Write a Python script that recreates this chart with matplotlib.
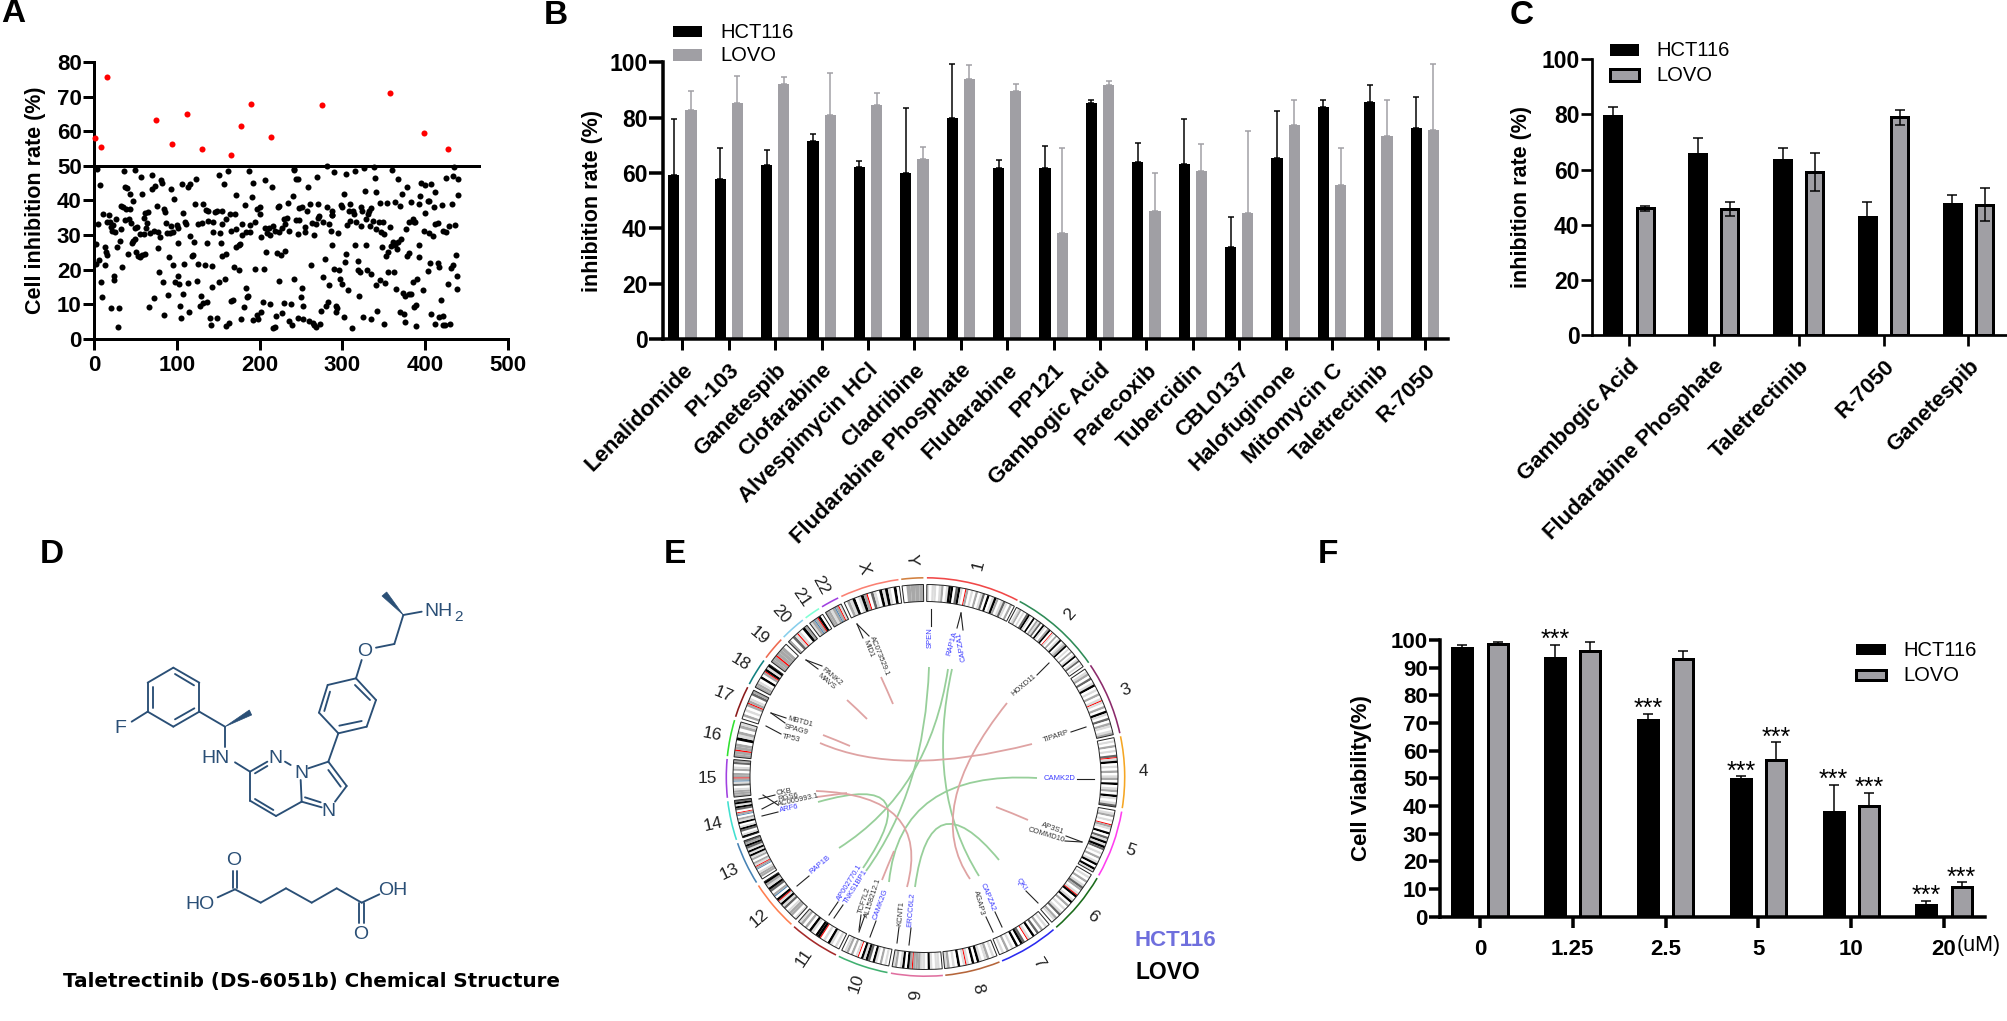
import numpy as np
import matplotlib
matplotlib.use("Agg")
import matplotlib.pyplot as plt
from matplotlib.patches import Wedge, Rectangle, Polygon, PathPatch
from matplotlib.path import Path

plt.rcParams['font.family'] = ['Liberation Sans', 'DejaVu Sans']
W, H = 2008, 1021
BLACK, GREY = '#000000', '#a09fa4'
NAVY = '#2a4f76'

# ---------- Panel A data ----------
scatter_x = [2,2,4,5,6,7,8,10,11,13,13,15,16,16,18,19,20,21,22,23,24,24,25,27,28,30,29,31,33,33,34,35,36,37,38,39,40,41,42,43,44,45,46,47,47,49,50,50,51,52,53,55,56,57,58,58,60,60,61,62,63,64,65,67,68,70,70,72,72,74,76,77,77,79,80,81,82,83,84,85,86,87,88,89,90,92,93,93,95,96,97,
 123,106,113,116,151,162,187,157,192,172,191,122,132,182,135,138,146,149,155,164,170,200,197,200,108,110,111,125,131,138,144,154,160,179,188,194,100,101,144,152,166,171,179,184,189,116,101,121,136,153,172,175,176,155,160,118,120,126,134,142,169,175,195,109,102,98,103,114,124,151,158,143,183,107,129,185,186,136,132,128,166,168,104,181,115,105,140,148,177,192,197,198,141,159,163,
 207,215,242,241,244,246,259,269,281,290,240,234,223,222,261,270,281,287,248,251,257,271,272,277,287,288,244,247,255,263,268,284,229,233,231,216,207,211,209,213,218,224,227,236,246,255,266,286,202,208,221,226,231,262,279,205,223,242,251,250,276,284,204,212,230,238,253,283,280,274,202,220,227,246,252,235,260,264,273,239,266,268,216,218,
 302,304,315,326,338,339,327,340,345,298,299,309,308,313,314,322,324,335,331,332,309,316,329,337,344,349,306,323,333,341,347,350,295,315,328,348,288,304,303,319,290,296,319,321,330,334,297,300,341,345,352,307,320,292,293,292,342,302,325,335,312,350,
 360,367,378,372,383,354,364,370,358,377,381,385,387,388,371,361,367,359,364,366,380,378,353,355,355,362,365,373,375,380,383,369,374,375,
 395,400,407,412,394,403,405,392,432,411,420,400,399,405,410,412,416,421,425,429,436,393,393,403,406,416,417,431,433,437,438,427,438,397,385,390,419,389,387,407,417,422,389,412,421,424,430,435,434,425,440,440]
scatter_y = [27.5,21.5,49,33.2,22.8,44.5,16.3,12.2,36,21.2,26.6,25,24.2,33.7,35.7,33.9,8.8,32.2,31.2,33,17,18,31,34.6,26.5,9,3.4,28.2,38.5,31.8,20.7,38,48.6,44,34.2,37.5,43.7,24.5,34.5,41.9,37.6,33.4,27.8,28.2,39.9,28.8,48.9,32,25,32.4,24,23.7,30.3,46.9,24.2,42,30.4,35,24.5,36.3,32,33.5,36.7,9.2,30.5,43.3,47.4,11.8,31.3,44.2,38.3,26.3,30.8,19.2,29.5,45.8,45.1,16.3,7,37.5,36.8,33.6,30.6,12.6,23.5,30.6,32.5,43.3,31,21.2,40.3,
 46.2,44.8,43.9,44.9,47.4,48.6,48.6,44.9,45,41.7,40.9,38.9,38.9,38.6,37.2,36.9,36.7,37,37,36.1,36,38,37.4,36,36.4,33.9,33.3,33.2,33.6,34,33.9,33.3,34.6,33.1,33,33.7,33,31.9,31,30.5,31.1,31.6,30.1,31,31,29.6,27.7,27.9,27.6,27.6,26.4,27.1,27.3,24,24.4,23.8,24.3,21.6,21.2,21.1,20.7,20,20.2,21.6,18.2,16.4,15.8,16.2,16.6,16.3,17.2,15,14.7,12.8,12.3,12,12.4,10.6,10.4,9.4,10.8,11.2,9.5,9.2,7.8,5.9,6.1,6,5.7,5.4,7,5.6,3.9,3.8,4.6,
 46,43.8,48.7,49.2,46.3,46.2,43.8,46.9,49.9,48.2,41.2,39.2,38.5,38.2,39,39,38.2,37,37.7,38.2,36.9,34.8,35.6,33.7,35.8,35.7,34.4,34.2,32.4,33.4,33.3,33.1,34.6,34.8,33.3,32.6,31.9,32,30.5,30,31.3,31,32,31.2,30.2,30.8,29.9,31.3,29.3,25.2,24.8,24.2,25.5,21.4,23.1,20.3,16.8,17.3,14.7,12.1,17.8,15.4,10.6,10,10.2,10,9.5,10.7,9.5,8.1,7.8,6.7,7.5,6,5.7,5.2,5.2,4.6,4.3,4,4,3.3,3.2,3.5,
 41.8,47.7,48.6,49.4,49.6,46.6,42.7,42.4,39.4,38.6,38.2,39,37,37,36.2,38,37,37.8,36.2,37,34,33.8,34.7,34,33.9,33.9,33,32.6,32.6,31.7,31,30.3,30.6,27,27.1,26.6,27,24.6,22.2,22.4,20.2,20,20,19.2,20,18.6,17.2,15.7,15.5,16.9,16,14,12.3,9.5,8.8,7.7,8.1,6.2,6.3,5.6,3,4.2,
 48.9,46.1,43.8,42,39.6,39.2,39.5,38.3,32.2,31.8,33.7,34.6,33.9,33.7,28.8,28.1,27.9,26.7,27,26,24.7,24,23.9,25,19.3,19.3,14.4,13.3,12.4,12.8,12.8,7.7,7.1,4.8,
 45.1,44.5,44.9,42.4,41.4,39.7,39.9,39,39,38,38.6,36.5,31.3,30.7,29.7,33.3,33.4,31.2,30.9,32.7,33,27,23.7,19.7,21.8,21.8,20.7,20.4,21.3,24.2,18.2,15.9,14.5,14,16.5,17.3,11.2,9.7,9.3,7.2,6.3,6.5,3.8,4.2,4,4,4.3,49.6,47,46.4,46.2,41.7]
hit_x = [1,9,16,75,94,112,131,166,178,190,214,275,357,398,427.5]
hit_y = [58,55.6,75.7,63.2,56.2,65,54.8,53.2,61.5,68,58.3,67.7,71,59.5,55]
threshold = 50

# ---------- Panel B data ----------
b_drugs = ['Lenalidomide','PI-103','Ganetespib','Clofarabine','Alvespimycin HCl','Cladribine',
           'Fludarabine Phosphate','Fludarabine','PP121','Gambogic Acid','Parecoxib','Tubercidin',
           'CBL0137','Halofuginone','Mitomycin C','Taletrectinib','R-7050']
b_hct = [59.2,57.8,62.9,71.6,62.2,60.1,79.8,61.9,61.9,85.2,64.1,63.4,33.1,65.5,83.7,85.6,76.4]
b_hct_top = [79.4,68.9,68.4,74,64.2,83.5,99.5,64.7,69.8,86.3,71,79.6,44,82.4,86.2,91.7,87.5]
b_lovo = [82.7,85.3,92.2,81.1,84.6,65.2,93.9,89.6,38.3,91.7,46.1,60.8,45.6,77.2,55.5,73.3,75.6]
b_lovo_top = [89.5,95,94.7,96.3,88.8,69.5,99.2,92,69.2,93.4,59.9,70.6,75.2,86.2,69,86.5,99.4]

# ---------- Panel C data ----------
c_drugs = ['Gambogic Acid','Fludarabine Phosphate','Taletrectinib','R-7050','Ganetespib']
c_hct = [79.5,65.7,63.3,42.9,47.6]
c_hct_err = [3,5.6,4.5,5.5,3.1]
c_lovo = [46,45.7,59.1,78.9,47.3]
c_lovo_err = [0.9,2.6,6.9,2.8,6.1]

# ---------- Panel F data ----------
f_doses = ['0','1.25','2.5','5','10','20']
f_hct = [97.2,93.5,71.2,49.9,38,4.1]
f_hct_err = [1.1,4.7,2.2,0.8,9.7,1.7]
f_lovo = [98.7,96.1,93.3,56.7,40,10.7]
f_lovo_err = [0.7,3.1,2.6,6.3,4.7,1.7]
f_hct_sig = [False,True,True,True,True,True]
f_lovo_sig = [False,False,False,True,True,True]

# ---------- Panel E data ----------
chrom_names = ['1','2','3','4','5','6','7','8','9','10','11','12','13','14','15','16','17','18','19','20','21','22','X','Y']
chrom_start = [0.4,28.2,55.9,78.2,100,120.5,140,158.2,175,191,206.7,222.3,238,251.6,264,276,287.6,297.8,306.8,314.6,323,328.7,335,353]
chrom_end   = [27.5,55,77.3,99,119.6,139,157.4,174.3,190,205.8,221.3,237,250.6,263,275.2,286.6,296.8,305.8,313.6,322,327.7,334,352.2,359.4]
chrom_color = ['#f04848','#2e8b57','#8b2a6b','#f5a623','#ff3ef0','#1a6b1a','#2a2af0','#b5653a','#e070a0','#40b070',
               '#a52a2a','#ff7f50','#4682b4','#40e0d0','#a040e0','#30e030','#8b1a1a','#118080','#ee6a50','#87ceeb',
               '#7fffd4','#a040e0','#fa8072','#d2803f']
# shade per band: 0 white .. 4 black, r red, b blue
chrom_bands = ['1011012014403410r201020130401420131020',
 '0120103410402130410240r10201401240102014013010',
 '01203014010201r10204103021012',
 '01020103r14010201204012041013',
 '012010r210403141430102014041',
 '0102013201r401402010130210',
 '0102030401r034040102010',
 '010210140401r10401021',
 '011014011222r24041021',
 '0102014034140r1020210',
 '01014010r4401402021',
 '1022103141r40b2034124',
 '02210b2r1202141413423',
 '41034104120b2r034143',
 '2221031b2r22021032',
 '22r220412021',
 '020102r21032',
 '2210402r414',
 '22r2220',
 '2031r1042',
 '12b2r40',
 '2212b2r1',
 '02140142r03104141040',
 '02222']
names_gene = ['SPEN','RAP1A','CAPZA1','HOXD11','TIPARP','CAMK2D','AP3S1','COMMD10','QKI','CAPZA2','AGAP3','ERCC6L2','KCNT1',
              'CAMK2G','AL158212.1','TCF7L2','TNKS1BP1','AP002770.1','RAP1B','ARF6','AC005993.1','RGS6','CKB','TP53','SPAG9','MBTD1','MAVS','PANK2','MID1','AC073529.1']
gene_blue = ['SPEN','RAP1A','CAPZA1','CAMK2D','QKI','CAPZA2','ERCC6L2','CAMK2G','TNKS1BP1','AP002770.1','RAP1B','ARF6']
gene_px = [(930,638),(952,643),(962,647),(1024,685),(1056,736),(1060,778),(1053,829),(1046,835),(1021,884),(988,897),(979,903),(911,910),(901,913),
           (881,904),(873,898),(865,900),(856,887),(850,883),(820,865),(789,809),(798,800),(788,797),(784,792),(791,738),(796,730),(800,722),(826,682),(832,677),(868,649),(879,656)]
gene_rot = [90,75,100,40,18,0,-20,-17,-55,-68,-75,85,85,70,72,72,58,58,40,12,12,12,10,-12,-15,-15,-40,-40,-68,-68]
gene_ticks = [((931,609),(931,626)),((961,613),(957,628)),((961,613),(963,630)),((1049,663),(1037,675)),((1086,727),(1071,732)),
              ((1094,779),(1077,779)),((1082,842),(1066,836)),((1082,842),(1065,841)),((1038,903),(1026,891)),((1002,927),(995,912)),
              ((993,932),(986,917)),((909,945),(911,928)),((897,943),(899,927)),((870,937),(876,921)),((859,932),(865,915)),((859,930),(861,915)),
              ((834,918),(843,905)),((829,915),(838,902)),((797,886),(809,876)),((762,816),(778,812)),((762,809),(777,801)),((763,795),(778,805)),((759,799),(775,795)),
              ((766,726),(781,734)),((771,713),(785,723)),((771,713),(786,718)),((806,660),(818,669)),((806,660),(822,666)),((857,624),(863,638)),((857,624),(869,636))]
link_green = [((929,667),(925,790),(866,871)),((948,669),(930,790),(839,848)),((952,669),(925,790),(979,876)),
              ((818,802),(930,770),(863,868)),((1037,778),(900,770),(889,882)),((915,887),(930,776),(999,860))]
link_red = [((1007,703),(922,809),(970,879)),((820,743),(900,778),(1032,744)),((816,791),(932,795),(907,887)),
            ((881,677),(887,690),(893,704)),((847,700),(857,709),(867,719)),((823,735),(836,740),(850,746)),
            ((817,797),(832,795),(847,793)),((894,851),(888,865),(882,880)),((1028,820),(1012,813),(996,807))]

# ---------- Helpers ----------
fig = plt.figure(figsize=(W/100, H/100), dpi=100)
def px(v): return v*0.72
def make_ax(l, t, r, b):
    ax = fig.add_axes([l/W, 1-b/H, (r-l)/W, (b-t)/H])
    ax.patch.set_alpha(0)
    for s in ['top','right']: ax.spines[s].set_visible(False)
    return ax
def style(ax, lw, xlen, ylen, size, xw=None):
    for s in ['left','bottom']: ax.spines[s].set_linewidth(px(lw))
    ax.tick_params(axis='y', width=px(lw), length=px(ylen), labelsize=size, pad=1)
    ax.tick_params(axis='x', width=px(xw or lw), length=px(xlen), labelsize=size)
    for t in ax.get_yticklabels()+ax.get_xticklabels(): t.set_fontweight('bold')
def ylab(ax, text, size, xpx, left, width):
    ax.set_ylabel(text, fontsize=size, fontweight='bold', va='center')
    ax.yaxis.set_label_coords((xpx-left)/width, 0.5)

ov = fig.add_axes([0,0,1,1]); ov.set_xlim(0,W); ov.set_ylim(H,0); ov.axis('off'); ov.set_zorder(5); ov.patch.set_alpha(0)

for letter, x, y in [('A',1,14),('B',544,15),('C',1510,15),('D',40,554),('E',664,554),('F',1318,554)]:
    ov.text(x, y, letter, fontsize=24, fontweight='bold', ha='left', va='center')

def legend(x0, x1, y1, y2, tx, ty1, ty2, edge):
    ov.add_patch(Rectangle((x0,y1[0]),x1-x0,y1[1]-y1[0],fc=BLACK,ec='none'))
    ov.add_patch(Rectangle((x0,y2[0]),x1-x0,y2[1]-y2[0],fc=GREY,ec=BLACK if edge else 'none',lw=px(3) if edge else 0))
    ov.text(tx,ty1,'HCT116',fontsize=14.5,va='center')
    ov.text(tx,ty2,'LOVO',fontsize=14.5,va='center')

# ---------- A ----------
a = make_ax(94,62.2,508,338.7)
a.set_xlim(0,500); a.set_ylim(0,80)
a.scatter(scatter_x, scatter_y, s=19, c='black', lw=0, zorder=3, clip_on=False)
a.scatter(hit_x, hit_y, s=19, c='#ff0000', lw=0, zorder=3, clip_on=False)
a.plot([0,465],[threshold,threshold],color='black',lw=px(3),zorder=2, clip_on=False)
a.set_xticks(range(0,501,100)); a.set_yticks(range(0,81,10))
style(a,3,11,11,16)
ylab(a,'Cell inhibition rate (%)',15.5,36,94,414)

# ---------- B ----------
b = make_ax(663,62.3,1448,339)
n = len(b_drugs); xs = np.arange(n)
b.set_xlim(-0.418,16.5); b.set_ylim(0,100)
off, wd = 0.184, 0.24
b.bar(xs-off,b_hct,wd,color=BLACK); b.bar(xs+off,b_lovo,wd,color=GREY)
up1 = np.array(b_hct_top)-np.array(b_hct); up2 = np.array(b_lovo_top)-np.array(b_lovo)
b.errorbar(xs-off,b_hct,yerr=[np.zeros(n),up1],fmt='none',ecolor=BLACK,elinewidth=px(1.5),capsize=2,capthick=px(1.5))
b.errorbar(xs+off,b_lovo,yerr=[np.zeros(n),up2],fmt='none',ecolor=GREY,elinewidth=px(1.5),capsize=2,capthick=px(1.5))
b.set_xticks(xs); b.set_xticklabels(b_drugs,rotation=45,ha='right',rotation_mode='anchor')
b.set_yticks(range(0,101,20))
style(b,3.5,11,14,16.5,3)
b.tick_params(axis='x',pad=7,labelsize=16)
ylab(b,'inhibition rate (%)',15.5,593,663,785)
legend(673,702.5,(26,37.3),(49.3,61.3),720,32,55.7,False)

# ---------- C ----------
c = make_ax(1592,59,2007,335.3)
m = len(c_drugs); xc = np.arange(m)
c.set_xlim((1592-1629)/84.85,(2007-1629)/84.85); c.set_ylim(0,100)
off, wd = 0.19, 0.2
c.bar(xc-off,c_hct,wd,color=BLACK,ec=BLACK,lw=px(3))
c.bar(xc+off,c_lovo,wd,color=GREY,ec=BLACK,lw=px(3))
c.errorbar(xc-off,c_hct,yerr=c_hct_err,fmt='none',ecolor=BLACK,elinewidth=px(1.5),capsize=3.5,capthick=px(1.5))
c.errorbar(xc+off,c_lovo,yerr=c_lovo_err,fmt='none',ecolor=BLACK,elinewidth=px(1.5),capsize=3.5,capthick=px(1.5))
c.set_xticks(xc); c.set_xticklabels(c_drugs,rotation=45,ha='right',rotation_mode='anchor')
c.set_yticks(range(0,101,20))
style(c,2.7,11,11,16.5)
c.tick_params(axis='x',pad=7,labelsize=16)
ylab(c,'inhibition rate (%)',15.5,1522,1592,415)
legend(1610,1639,(44,55.7),(69.5,81),1656,51,75.7,True)

# ---------- F ----------
f = make_ax(1440,640,1985,916.7)
k = len(f_doses); xf = np.arange(k)
f.set_xlim((1440-1480)/92.8,(1985-1480)/92.8); f.set_ylim(0,100)
off, wd = 0.19, 0.215
f.bar(xf-off,f_hct,wd,color=BLACK,ec=BLACK,lw=px(3))
f.bar(xf+off,f_lovo,wd,color=GREY,ec=BLACK,lw=px(3))
f.errorbar(xf-off,f_hct,yerr=[np.zeros(k),f_hct_err],fmt='none',ecolor=BLACK,elinewidth=px(1.5),capsize=3.5,capthick=px(1.5))
f.errorbar(xf+off,f_lovo,yerr=[np.zeros(k),f_lovo_err],fmt='none',ecolor=BLACK,elinewidth=px(1.5),capsize=3.5,capthick=px(1.5))
f.set_xticks(xf); f.set_xticklabels(f_doses)
f.set_yticks(range(0,101,10))
style(f,3.5,11,11,16)
f.tick_params(axis='x',pad=8)
ylab(f,'Cell Viability(%)',16,1362,1440,545)
for i in range(k):
    if f_hct_sig[i]:
        f.text(i-off,f_hct[i]+f_hct_err[i]+1.8,'***',fontsize=18,ha='center',va='center',clip_on=False)
    if f_lovo_sig[i]:
        f.text(i+off,f_lovo[i]+f_lovo_err[i]+1.8,'***',fontsize=18,ha='center',va='center',clip_on=False)
ov.text(1957,945,'(uM)',fontsize=15.5,va='center')
legend(1856,1886,(644,655),(669.5,680),1903,650,675,True)

# ---------- D (chemical structure) ----------
def zx(p): return (60+p[0]/3, 560+p[1]/3)
bonds = [((340,323),(418,368)),((418,368),(418,455)),((418,455),(340,500)),((340,500),(263,455)),((263,455),(263,368)),((263,368),(340,323)),
 ((345,342),(402,376)),((403,445),(345,478)),((278,380),(278,443)),((263,455),(215,485)),((418,455),(495,500)),((495,500),(495,560)),
 ((525,607),(570,635)),((570,635),(622,605)),((585,640),(622,618)),((675,605),(692,615)),((722,660),(725,725)),((725,725),(648,768)),
 ((648,768),(570,722)),((640,750),(585,717)),((570,722),(570,635)),((745,625),(805,605)),((805,605),(860,678)),((805,630),(842,680)),
 ((860,678),(825,725)),((725,725),(785,742)),((735,712),(782,727)),((805,605),(835,520)),((835,520),(920,500)),((920,500),(948,420)),
 ((948,420),(888,355)),((888,355),(803,375)),((803,375),(777,458)),((777,458),(835,520)),((838,497),(905,483)),((930,420),(885,375)),
 ((810,395),(793,453)),((888,355),(905,300)),((948,263),(1003,252)),((1003,252),(1030,165)),((1030,165),(1085,155)),
 ((473,1012),(525,988)),((518,985),(518,932)),((530,985),(530,932)),((525,988),(602,1028)),((602,1028),(678,985)),((678,985),(755,1028)),
 ((755,1028),(830,985)),((830,985),(905,1028)),((905,1028),(958,1003)),((898,1028),(898,1090)),((912,1028),(912,1090))]
for p,q in bonds:
    P,Q = zx(p),zx(q)
    ov.plot([P[0],Q[0]],[P[1],Q[1]],color=NAVY,lw=1.35,solid_capstyle='round')
for tri in [[(495,500),(568,450),(575,465)],[(1030,165),(966,108),(980,96)]]:
    ov.add_patch(Polygon([zx(p) for p in tri],fc=NAVY,ec=NAVY,lw=0.5))
for s,p,fs in [('F',(182,505),14),('HN',(468,595),14),('N',(645,595),14),('N',(725,640),14),('N',(805,755),14),('O',(913,273),14),('NH',(1135,155),14),
            ('2',(1197,170),11),('HO',(420,1032),14),('O',(520,900),14),('OH',(998,990),14),('O',(902,1122),14)]:
    P = zx(p); ov.text(P[0],P[1],s,color=NAVY,fontsize=fs,ha='center',va='center')
ov.text(63,981,'Taletrectinib (DS-6051b) Chemical Structure',fontsize=14.3,fontweight='bold',va='center',family=['DejaVu Sans'])

# ---------- E (circos) ----------
CX, CY = 925.5, 777
shade = {'0':'#ffffff','1':'#dcdcdc','2':'#a8a8a8','3':'#666666','4':'#000000','r':'#ff0000','b':'#4682b4'}
for nm,s,e,col,bands in zip(chrom_names,chrom_start,chrom_end,chrom_color,chrom_bands):
    ov.add_patch(Wedge((CX,CY),200,s-90,e-90,width=1.6,fc=col,ec='none'))
    wts = [0.45 if ch in 'rb' else 1.0 for ch in bands]
    step = (e-s)/sum(wts); pos = s
    for ch,wt in zip(bands,wts):
        ov.add_patch(Wedge((CX,CY),192.5,pos-90,pos+wt*step-90,width=17,fc=shade[ch],ec='none'))
        pos += wt*step
    ov.add_patch(Wedge((CX,CY),192.5,s-90,e-90,width=17,fc='none',ec='#222222',lw=0.7))
    mid = (s+e)/2
    r = 218; t = np.radians(mid-90)
    rot = 90-mid if mid<=180 else 270-mid
    ov.text(CX+r*np.cos(t),CY+r*np.sin(t),nm,fontsize=12.5,ha='center',va='center',rotation=rot,color='#222222')
for (p,q) in gene_ticks:
    ov.plot([p[0],q[0]],[p[1],q[1]],color='#222222',lw=0.8)
for g,pos,rot in zip(names_gene,gene_px,gene_rot):
    ov.text(pos[0],pos[1],g,fontsize=5.5,rotation=rot,ha='center',va='center',color='#3c3cff' if g in gene_blue else '#333333')
for links,col in [(link_green,'#97cf9a'),(link_red,'#dfa3a3')]:
    for p0,p1,p2 in links:
        ov.add_patch(PathPatch(Path([p0,p1,p2],[Path.MOVETO,Path.CURVE3,Path.CURVE3]),fc='none',ec=col,lw=1.3))
ov.text(1135,940,'HCT116',fontsize=16,fontweight='bold',color='#6f6fdd',va='center')
ov.text(1136,972,'LOVO',fontsize=16.5,fontweight='bold',color='black',va='center')

fig.savefig('out.png',dpi=100)
